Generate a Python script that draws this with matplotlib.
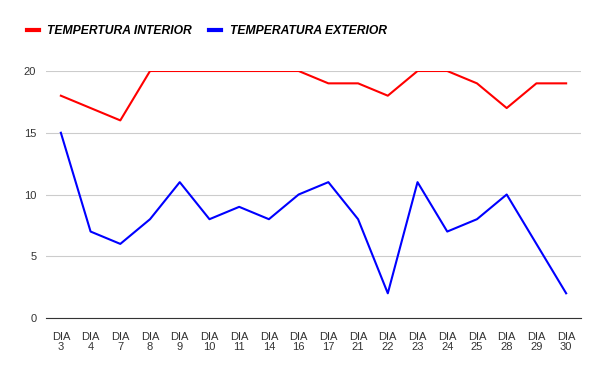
import matplotlib
matplotlib.use("Agg")
import matplotlib.pyplot as plt
from matplotlib.lines import Line2D

plt.rcParams['font.family'] = ['Liberation Sans', 'DejaVu Sans']

dias = ["3", "4", "7", "8", "9", "10", "11", "14", "16", "17",
        "21", "22", "23", "24", "25", "28", "29", "30"]
temp_interior = [18, 17, 16, 20, 20, 20, 20, 20, 20, 19, 19, 18, 20, 20, 19, 17, 19, 19]
temp_exterior = [15, 7, 6, 8, 11, 8, 9, 8, 10, 11, 8, 2, 11, 7, 8, 10, 6, 2]
labels = ["TEMPERTURA INTERIOR", "TEMPERATURA EXTERIOR"]

fig = plt.figure(figsize=(6, 3.71), dpi=100)
ax = fig.add_axes([46 / 600, 53 / 371, 535 / 600, 247 / 371])

x = list(range(len(dias)))
ax.plot(x, temp_interior, color="#ff0000", lw=1.5)
ax.plot(x, temp_exterior, color="#0000ff", lw=1.5)

ax.set_xlim(-0.5, len(dias) - 0.5)
ax.set_ylim(0, 20)
ax.set_yticks([0, 5, 10, 15, 20])
ax.set_xticks(x)
ax.set_xticklabels([f"DIA\n{d}" for d in dias], fontsize=8, color="#333333", linespacing=1.05)
ax.tick_params(axis="y", length=0, pad=7, labelsize=8, labelcolor="#333333")
ax.tick_params(axis="x", length=0, pad=10)
ax.grid(axis="y", color="#cccccc", lw=0.8)
ax.set_axisbelow(True)
for s in ["top", "right", "left"]:
    ax.spines[s].set_visible(False)
ax.spines["bottom"].set_color("#333333")
ax.spines["bottom"].set_linewidth(0.8)

handles = [Line2D([], [], color="#ff0000", lw=3), Line2D([], [], color="#0000ff", lw=3)]
fig.legend(handles, labels, loc="center left", bbox_to_anchor=(16 / 600, 1 - 31 / 371),
           ncol=2, frameon=False, handlelength=1.0, handletextpad=0.7, columnspacing=1.4,
           prop={"weight": "bold", "style": "italic", "size": 8.7})

fig.savefig("out.png", dpi=100)
